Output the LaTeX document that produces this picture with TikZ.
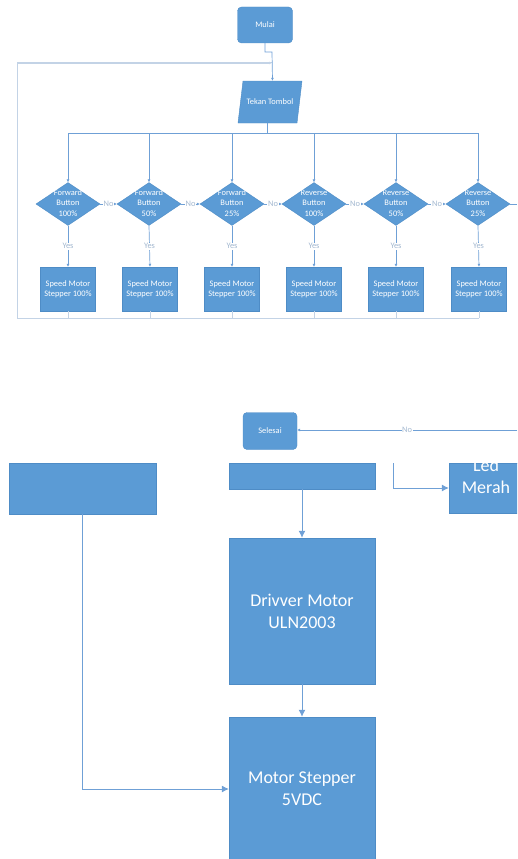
\documentclass[tikz,border=0pt]{standalone}
\usepackage{fontspec}
\setmainfont{Carlito}
\usetikzlibrary{shapes.geometric,arrows.meta,calc}

\definecolor{boxblue}{HTML}{5B9BD5}
\definecolor{boxedge}{HTML}{4E8CC6}
\definecolor{wire}{HTML}{6FA0D6}
\definecolor{framewire}{HTML}{C3D3E6}
\definecolor{lbl}{HTML}{A3B8D0}

\tikzset{
  box/.style={fill=boxblue, draw=boxedge, line width=0.4pt, text=white, align=center, inner sep=0pt},
  smallbox/.style={box, minimum width=55pt, minimum height=44pt, font=\fontsize{8.4}{10}\selectfont},
  bigbox/.style={box, minimum width=146pt, font=\fontsize{18}{22}\selectfont},
  term/.style={box, rounded corners=4pt, minimum width=55pt, minimum height=36pt, font=\fontsize{8.4}{10}\selectfont},
  decide/.style={diamond, fill=boxblue, draw=boxedge, line width=0.4pt, inner sep=0pt, minimum width=64pt, minimum height=43pt},
  dtext/.style={text=white, align=center, inner sep=0pt, font=\fontsize{8.4}{10.5}\selectfont},
  iotext/.style={text=white, inner sep=0pt, minimum width=59pt, minimum height=42pt, font=\fontsize{8.4}{10}\selectfont},
  conn/.style={draw=wire, line width=0.7pt},
  arr/.style={conn, -{Latex[length=3pt,width=3pt]}},
  bigarr/.style={draw=wire, line width=1pt, -{Latex[length=7pt,width=7pt]}},
  loopline/.style={draw=framewire, line width=1pt},
  tag/.style={fill=white, text=lbl, inner sep=0.6pt, font=\fontsize{8.4}{10}\selectfont},
}

\begin{document}
\begin{tikzpicture}[x=1pt, y=-1pt]
\useasboundingbox (0,0) rectangle (517,859);
\begin{scope}
\clip (0,0) rectangle (517,859);

% ---------- start and input ----------
\node[term] (mulai) at (265,25) {Mulai};
% input parallelogram: slanted body drawn behind a plain text node
\fill[boxblue, draw=boxedge, line width=0.4pt]
  (243,81) -- (302,81) -- (297,123) -- (238,123) -- cycle;
\node[iotext] (tekan) at (270,102) {Tekan Tombol};
\coordinate (tekanin) at ($(tekan.north)+(2.5,0)$);
\coordinate (tekanout) at ($(tekan.south)+(-2.5,0)$);
\coordinate (bend) at (272,52);
\coordinate (join) at (272,63);

% loop back from the bottom rail to the input
\coordinate (railL) at (17,318);
\coordinate (railR) at (479,318);
\draw[loopline] (railR) -- (railL) -- (17,63) -- (join);
\draw[conn, -{Latex[length=3pt,width=3pt]}, draw=framewire] (17,63) -- (join);

\draw[arr] (mulai.south) |- (bend) -- (tekanin);

% ---------- decisions ----------
\node[decide] (d1) at (68,204) {};
\node[decide] (d2) at (149,204) {};
\node[decide] (d3) at (232,204) {};
\node[decide] (d4) at (314,204) {};
\node[decide] (d5) at (396,204) {};
\node[decide] (d6) at (478,204) {};

\node[dtext] (t1) at (68,203) {Forward\\Button\\100\%};
\node[dtext] (t2) at (149,203) {Forward\\Button\\50\%};
\node[dtext] (t3) at (232,203) {Forward\\Button\\25\%};
\node[dtext] (t4) at (314,203) {Reverse\\Button\\100\%};
\node[dtext] (t5) at (396,203) {Reverse\\Button\\50\%};
\node[dtext] (t6) at (478,203) {Reverse\\Button\\25\%};

% distribution bus
\coordinate (bus) at (0,133);
\draw[conn] (tekanout) -- (tekanout |- bus);
\draw[conn] (d1.north |- bus) -- (d6.north |- bus);
\foreach \d in {d1,d2,d3,d4,d5,d6}
  \draw[arr] (\d.north |- bus) -- (\d.north);

% "No" chain
\foreach \a/\b in {d1/d2,d2/d3,d3/d4,d4/d5,d5/d6}
  \draw[arr] (\a.east) -- node[tag] {No} (\b.west);
\coordinate (exitR) at (517,204);
\draw[conn] (d6.east) -- (exitR);

% ---------- speed boxes ----------
\foreach \i/\x in {1/68,2/150,3/232,4/314,5/396,6/479}{
  \node[smallbox] (s\i) at (\x,289) {Speed Motor\\Stepper 100\%};
  \draw[arr] (d\i.south) -- node[tag] {Yes} (s\i.north);
  \draw[loopline] (s\i.south) -- (s\i.south |- railL);
}

% ---------- end ----------
\node[term, minimum width=54pt, minimum height=37pt] (selesai) at (270,431) {Selesai};
\coordinate (noin) at (517,430);
\draw[arr] (noin) -- node[tag, pos=0.5] {No} (selesai.east |- noin);

% ---------- hardware section ----------
\begin{scope}
\clip (0,463) rectangle (517,859);
\node[box, minimum width=147pt, minimum height=51pt] (lb) at (82.5,488.5) {};
\node[box, minimum width=146pt, minimum height=26pt] (mb) at (302,476) {};
\node[box, minimum width=74pt, minimum height=50pt] (led) at (486,488) {};
\node[text=white, align=center, inner sep=0pt, font=\fontsize{18}{22}\selectfont] (ledtext) at (486,476) {Led\\Merah};

\node[bigbox, minimum height=146pt] (drv) at (302,611) {Drivver Motor\\ULN2003};
\node[bigbox, minimum height=144pt] (motor) at (302,789) {Motor Stepper\\5VDC};

\coordinate (ledsrc) at (393,463);
\draw[bigarr, line width=0.8pt] (ledsrc) |- (led.west);
\draw[bigarr] (mb.south) -- (drv.north);
\draw[bigarr] (drv.south) -- (motor.north);
\draw[bigarr, line width=0.8pt] (lb.south) |- (motor.west);
\end{scope}
\end{scope}
\end{tikzpicture}
\end{document}
